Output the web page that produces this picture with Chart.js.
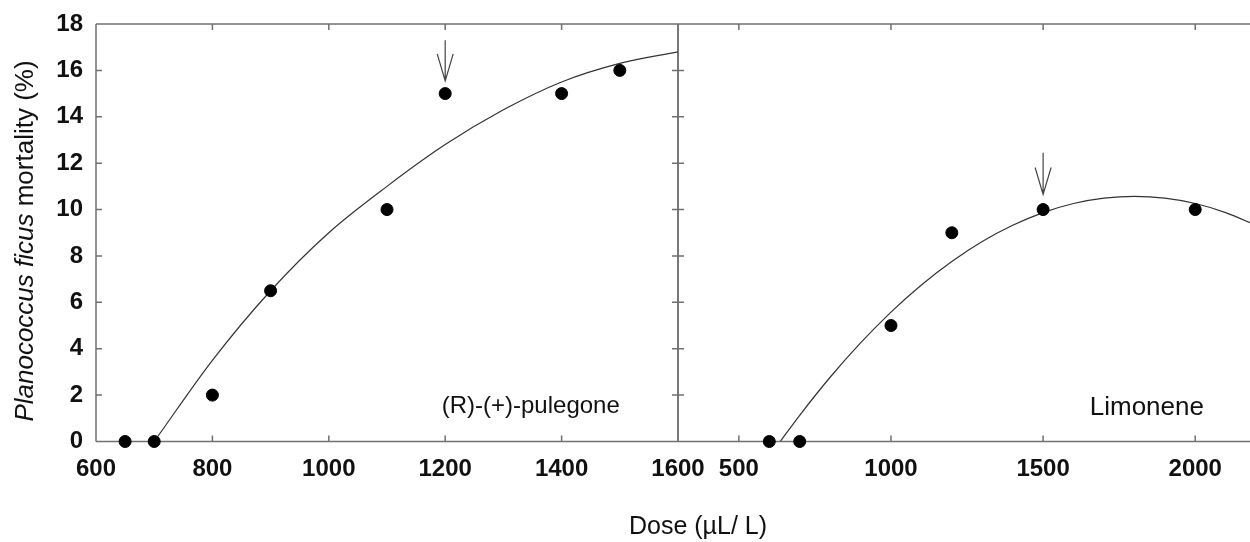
<!DOCTYPE html>
<html>
<head>
<meta charset="utf-8">
<script src="https://cdn.jsdelivr.net/npm/chart.js@4.4.1/dist/chart.umd.min.js"></script>
<style>
html, body { margin: 0; padding: 0; background: #fff; overflow: hidden; }
#wrap { position: relative; width: 1250px; height: 542px; overflow: hidden; }
#boxLeft { position: absolute; left: 0; top: 0; width: 800px; height: 542px; z-index: 2; }
#boxRight { position: absolute; left: 640px; top: 0; width: 650px; height: 542px; z-index: 1; }
</style>
</head>
<body>
<div id="wrap">
  <div id="boxRight"><canvas id="grafico-limonene"></canvas></div>
  <div id="boxLeft"><canvas id="grafico-pulegone"></canvas></div>
</div>
<script>
// dados
var pulegoneDose = [650, 700, 800, 900, 1100, 1200, 1400, 1500];
var pulegoneMortality = [0, 0, 2, 6.5, 10, 15, 15, 16];
var pulegoneFitDose = [700, 800, 900, 1000, 1100, 1200, 1300, 1400, 1500, 1600];
var pulegoneFitMortality = [0, 3.5, 6.5, 9.0, 11.0, 12.8, 14.3, 15.5, 16.3, 16.8];

var limoneneDose = [600, 700, 1000, 1200, 1500, 2000];
var limoneneMortality = [0, 0, 5, 9, 10, 10];
var limoneneFitDose = [636, 700, 800, 900, 1000, 1100, 1200, 1300, 1400, 1500, 1600, 1700, 1800, 1900, 2000, 2100, 2200];
var limoneneFitMortality = [0, 1.13, 2.77, 4.25, 5.58, 6.75, 7.76, 8.62, 9.32, 9.87, 10.26, 10.49, 10.57, 10.49, 10.26, 9.87, 9.32];

var yTicks = [0, 2, 4, 6, 8, 10, 12, 14, 16, 18];
var pulegoneTicks = [600, 800, 1000, 1200, 1400, 1600];
var limoneneTicks = [500, 1000, 1500, 2000];

var FONTE = '"Liberation Sans", Arial, Helvetica, sans-serif';
var corTexto = '#111';

function pares(xs, ys) {
    return xs.map(function (x, i) { return { x: x, y: ys[i] }; });
}

function fixaTicks(lista) {
    return function (scale) {
        scale.ticks = lista.map(function (v) { return { value: v }; });
    };
}

// moldura com marcas para dentro, seta e rotulo do painel
var moldura = {
    id: 'moldura',
    beforeDatasetsDraw: function (chart, args, opts) {
        var ctx = chart.ctx, a = chart.chartArea;
        var xs = chart.scales.x, ys = chart.scales.y;
        ctx.save();
        ctx.strokeStyle = '#707070';
        ctx.lineWidth = 1.5;
        ctx.beginPath();
        ctx.moveTo(a.left, a.top); ctx.lineTo(a.right, a.top);
        ctx.moveTo(a.left, a.bottom); ctx.lineTo(a.right, a.bottom);
        ctx.moveTo(a.left, a.top); ctx.lineTo(a.left, a.bottom);
        if (opts.ladoDireito) { ctx.moveTo(a.right, a.top); ctx.lineTo(a.right, a.bottom); }
        opts.marcasX.forEach(function (v) {
            var px = xs.getPixelForValue(v);
            ctx.moveTo(px, a.bottom); ctx.lineTo(px, a.bottom - 6);
            ctx.moveTo(px, a.top); ctx.lineTo(px, a.top + 6);
        });
        yTicks.forEach(function (v) {
            var py = ys.getPixelForValue(v);
            ctx.moveTo(a.left, py); ctx.lineTo(a.left + 6, py);
            if (opts.ladoDireito) { ctx.moveTo(a.right, py); ctx.lineTo(a.right - 6, py); }
        });
        ctx.stroke();
        ctx.restore();
    },
    afterDatasetsDraw: function (chart, args, opts) {
        var ctx = chart.ctx;
        var xs = chart.scales.x, ys = chart.scales.y;
        ctx.save();
        // seta
        var sx = xs.getPixelForValue(opts.seta.dose);
        var y1 = ys.getPixelForValue(opts.seta.de);
        var y2 = ys.getPixelForValue(opts.seta.ate);
        ctx.strokeStyle = '#444';
        ctx.lineWidth = 1.2;
        ctx.beginPath();
        ctx.moveTo(sx, y1); ctx.lineTo(sx, y2);
        ctx.moveTo(sx - 8, y2 - 27); ctx.lineTo(sx, y2); ctx.lineTo(sx + 8, y2 - 27);
        ctx.stroke();
        // rotulo
        ctx.fillStyle = corTexto;
        ctx.font = opts.rotulo.tamanho + 'px ' + FONTE;
        ctx.textAlign = 'center';
        ctx.textBaseline = 'middle';
        ctx.fillText(opts.rotulo.texto, xs.getPixelForValue(opts.rotulo.dose), ys.getPixelForValue(opts.rotulo.valor));
        ctx.restore();
    },
    afterDraw: function (chart, args, opts) {
        if (!opts.titulos) return;
        var ctx = chart.ctx;
        ctx.save();
        ctx.fillStyle = corTexto;
        ctx.textBaseline = 'middle';
        // titulo do eixo y (parte em italico)
        ctx.translate(26, 241);
        ctx.rotate(-Math.PI / 2);
        var fItal = 'italic 26px ' + FONTE, fNorm = '26px ' + FONTE;
        var p1 = 'Planococcus ficus', p2 = ' mortality (%)';
        ctx.font = fItal; var w1 = ctx.measureText(p1).width;
        ctx.font = fNorm; var w2 = ctx.measureText(p2).width;
        var x0 = -(w1 + w2) / 2;
        ctx.textAlign = 'left';
        ctx.font = fItal; ctx.fillText(p1, x0, 0);
        ctx.font = fNorm; ctx.fillText(p2, x0 + w1, 0);
        ctx.setTransform(1, 0, 0, 1, 0, 0);
        // titulo do eixo x
        ctx.textAlign = 'center';
        ctx.font = '25px ' + FONTE;
        ctx.fillText('Dose (\u00b5L/ L)', 698, 527);
        ctx.restore();
    }
};

function eixoX(min, max, marcas) {
    return {
        type: 'linear',
        position: 'bottom',
        min: min,
        max: max,
        afterBuildTicks: fixaTicks(marcas),
        afterFit: function (s) { s.height = 100.5; },
        grid: { display: false, drawTicks: true, tickLength: 13 },
        border: { display: false },
        ticks: {
            padding: 0,
            color: corTexto,
            font: { family: FONTE, size: 24, weight: 'bold' },
            callback: function (v) { return String(v); }
        }
    };
}

var refPulegone = document.querySelector('#grafico-pulegone').getContext('2d');
var refLimonene = document.querySelector('#grafico-limonene').getContext('2d');

var graficoPulegone = new Chart(refPulegone, {
    type: 'scatter',
    data: {
        datasets: [{
            label: '(R)-(+)-pulegone',
            data: pares(pulegoneDose, pulegoneMortality),
            backgroundColor: '#000',
            borderColor: '#000',
            pointRadius: 6,
            pointHoverRadius: 6,
            clip: false
        }, {
            label: 'ajuste',
            data: pares(pulegoneFitDose, pulegoneFitMortality),
            showLine: true,
            borderColor: '#333',
            borderWidth: 1.2,
            pointRadius: 0,
            cubicInterpolationMode: 'monotone'
        }]
    },
    options: {
        responsive: true,
        maintainAspectRatio: false,
        animation: false,
        layout: { padding: { left: 0, top: 24, right: 122, bottom: 0 } },
        scales: {
            x: eixoX(600, 1600, pulegoneTicks),
            y: {
                type: 'linear',
                min: 0,
                max: 18,
                afterBuildTicks: fixaTicks(yTicks),
                afterFit: function (s) { s.width = 96; },
                grid: { display: false, drawTicks: true, tickLength: 13 },
                border: { display: false },
                ticks: {
                    padding: 0,
                    color: corTexto,
                    font: { family: FONTE, size: 24, weight: 'bold' }
                }
            }
        },
        plugins: {
            legend: { display: false },
            tooltip: { enabled: false },
            moldura: {
                ladoDireito: true,
                marcasX: pulegoneTicks,
                seta: { dose: 1200, de: 17.3, ate: 15.55 },
                rotulo: { texto: '(R)-(+)-pulegone', dose: 1347, valor: 1.5, tamanho: 24 },
                titulos: true
            }
        }
    },
    plugins: [moldura]
});

var graficoLimonene = new Chart(refLimonene, {
    type: 'scatter',
    data: {
        datasets: [{
            label: 'Limonene',
            data: pares(limoneneDose, limoneneMortality),
            backgroundColor: '#000',
            borderColor: '#000',
            pointRadius: 6,
            pointHoverRadius: 6,
            clip: false
        }, {
            label: 'ajuste',
            data: pares(limoneneFitDose, limoneneFitMortality),
            showLine: true,
            borderColor: '#333',
            borderWidth: 1.2,
            pointRadius: 0,
            cubicInterpolationMode: 'monotone'
        }]
    },
    options: {
        responsive: true,
        maintainAspectRatio: false,
        animation: false,
        layout: { padding: { left: 38, top: 24, right: 40, bottom: 0 } },
        scales: {
            x: eixoX(300, 2180, limoneneTicks),
            y: { type: 'linear', display: false, min: 0, max: 18 }
        },
        plugins: {
            legend: { display: false },
            tooltip: { enabled: false },
            moldura: {
                ladoDireito: false,
                marcasX: limoneneTicks,
                seta: { dose: 1500, de: 12.45, ate: 10.65 },
                rotulo: { texto: 'Limonene', dose: 1841, valor: 1.45, tamanho: 26 },
                titulos: false
            }
        }
    },
    plugins: [moldura]
});
</script>
</body>
</html>
